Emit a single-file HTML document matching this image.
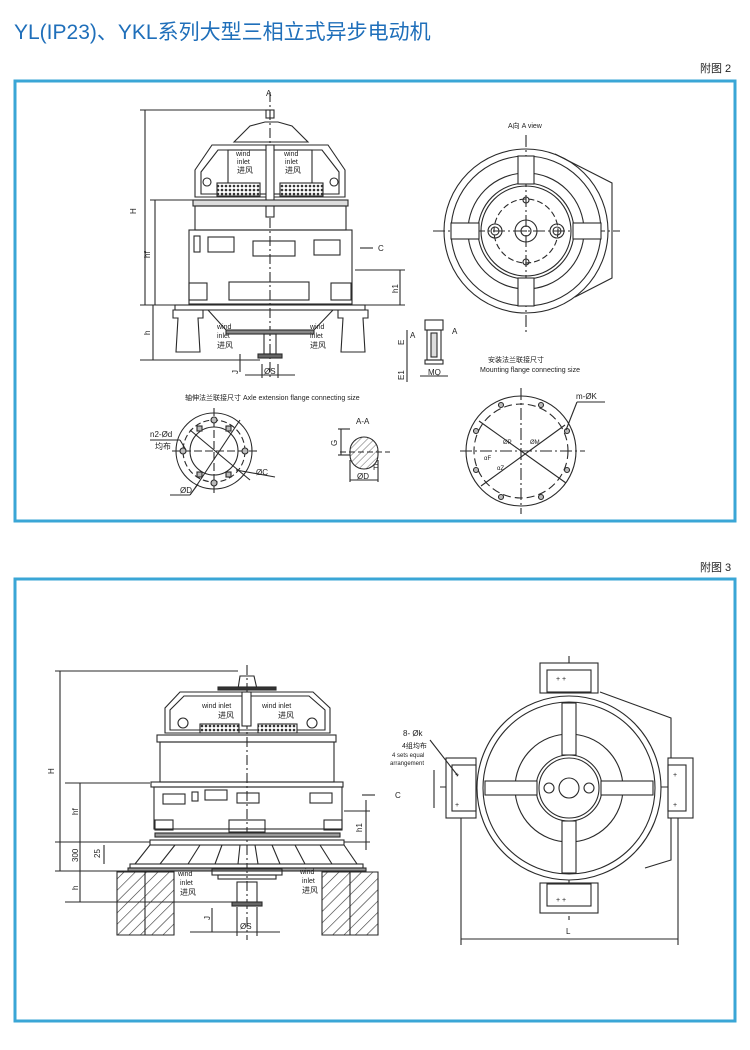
<!DOCTYPE html>
<html><head><meta charset="utf-8"><style>
html,body{margin:0;padding:0;background:#fff;width:750px;height:1050px;overflow:hidden}
svg{display:block}
text{font-family:"Liberation Sans","Noto Sans CJK SC",sans-serif;fill:#222}
</style></head><body>
<svg width="750" height="1050" viewBox="0 0 750 1050" xmlns="http://www.w3.org/2000/svg">
<defs>
<pattern id="mesh" width="4" height="4" patternUnits="userSpaceOnUse"><rect width="4" height="4" fill="#fff"/><circle cx="2" cy="2" r="1.3" fill="#333"/></pattern>
<pattern id="hatch" width="8" height="8" patternUnits="userSpaceOnUse" patternTransform="rotate(45)"><rect width="8" height="8" fill="#fff"/><line x1="0" y1="0" x2="0" y2="8" stroke="#333" stroke-width="1.2"/></pattern>
<pattern id="hatch2" width="5" height="5" patternUnits="userSpaceOnUse" patternTransform="rotate(45)"><line x1="0" y1="0" x2="0" y2="5" stroke="#444" stroke-width="0.8"/></pattern>
</defs>
<text x="14" y="39" font-size="21" style="fill:#1f6fba" font-family="Liberation Sans,Noto Sans CJK SC,sans-serif">YL(IP23)、YKL系列大型三相立式异步电动机</text>
<text x="700" y="72" font-size="11">附图 2</text>
<rect x="15" y="81" width="720" height="440" fill="none" stroke="#3aa6d6" stroke-width="3"/>
<text x="700" y="571" font-size="11">附图 3</text>
<rect x="15" y="579" width="720" height="442" fill="none" stroke="#3aa6d6" stroke-width="3"/>

<g stroke="#2a2a2a" stroke-width="1.1" fill="none">
<!-- ===== FIG 2 side view ===== -->
<line x1="270" y1="92" x2="270" y2="380" stroke-dasharray="10 3 2 3"/>
<path d="M234 142 L250 126 L265 122 L278 122 L292 126 L308 142 Z"/>
<rect x="266" y="110" width="8" height="8"/>
<path d="M212 145 L328 145 L345 170 L345 197 L195 197 L195 170 Z"/>
<path d="M218 150 L322 150 L339 172 L339 194 L201 194 L201 172 Z"/>
<rect x="228" y="150" width="84" height="44"/>
<rect x="266" y="145" width="8" height="72" fill="#fff"/>
<rect x="217" y="183" width="43" height="13" fill="url(#mesh)"/>
<rect x="280" y="183" width="43" height="13" fill="url(#mesh)"/>
<circle cx="207" cy="182" r="4"/><circle cx="334" cy="182" r="4"/>
<rect x="193" y="200" width="155" height="6" fill="#ddd"/>
<rect x="195" y="206" width="151" height="24"/>
<rect x="189" y="230" width="163" height="74"/>
<rect x="194" y="236" width="6" height="16"/>
<rect x="208" y="237" width="26" height="15"/>
<rect x="253" y="241" width="42" height="15"/>
<rect x="314" y="240" width="26" height="15"/>
<rect x="189" y="283" width="18" height="17"/>
<rect x="229" y="282" width="80" height="18"/>
<rect x="331" y="283" width="20" height="17"/>
<rect x="175" y="305" width="190" height="5"/>
<path d="M208 310 L226 330 L314 330 L333 310"/>
<rect x="226" y="330" width="88" height="4" fill="#888"/>
<path d="M173 310 L203 310 L203 318 L198 318 L200 352 L176 352 L178 318 L173 318 Z"/>
<path d="M338 310 L368 310 L368 318 L363 318 L365 352 L341 352 L343 318 L338 318 Z"/>
<rect x="264" y="334" width="12" height="20"/>
<rect x="258" y="354" width="24" height="4" fill="#666"/>
<line x1="140" y1="110" x2="270" y2="110"/><line x1="145" y1="110" x2="145" y2="305"/>
<line x1="150" y1="200" x2="193" y2="200"/><line x1="155" y1="200" x2="155" y2="305"/>
<line x1="140" y1="305" x2="180" y2="305"/><line x1="153" y1="305" x2="153" y2="360"/>
<line x1="140" y1="360" x2="260" y2="360"/>
<line x1="355" y1="270" x2="405" y2="270"/><line x1="355" y1="305" x2="405" y2="305"/><line x1="400" y1="270" x2="400" y2="305"/>
<line x1="360" y1="248" x2="373" y2="248"/>
<line x1="262" y1="364" x2="262" y2="378"/><line x1="278" y1="364" x2="278" y2="378"/><line x1="245" y1="375" x2="295" y2="375"/>
<line x1="240" y1="354" x2="240" y2="372"/>
<rect x="425" y="320" width="18" height="10"/><rect x="427" y="330" width="14" height="30"/><rect x="431" y="333" width="6" height="24" fill="#ddd"/>
<rect x="425" y="360" width="18" height="4"/>
<line x1="407" y1="330" x2="407" y2="362"/><line x1="407" y1="362" x2="407" y2="382"/>
<line x1="420" y1="376" x2="448" y2="376"/>
<!-- A view -->
<line x1="526" y1="135" x2="526" y2="335" stroke-dasharray="12 3 2 3"/>
<line x1="433" y1="231" x2="620" y2="231" stroke-dasharray="12 3 2 3"/>
<path d="M555 154 L612 183 L612 278 L575 297"/>
<circle cx="526" cy="231" r="82"/>
<circle cx="526" cy="231" r="75"/>
<circle cx="526" cy="231" r="58"/>
<circle cx="526" cy="231" r="48"/>
<circle cx="526" cy="231" r="45"/>
<circle cx="526" cy="231" r="32" stroke-dasharray="6 3"/>
<rect x="518" y="156" width="16" height="28" fill="#fff"/>
<rect x="518" y="278" width="16" height="28" fill="#fff"/>
<rect x="451" y="223" width="28" height="16" fill="#fff"/>
<rect x="573" y="223" width="28" height="16" fill="#fff"/>
<circle cx="526" cy="231" r="11"/><circle cx="526" cy="231" r="5"/>
<circle cx="495" cy="231" r="7"/><circle cx="495" cy="231" r="4"/>
<circle cx="557" cy="231" r="7"/><circle cx="557" cy="231" r="4"/>
<circle cx="526" cy="200" r="3"/><circle cx="526" cy="262" r="3"/>
<!-- flange 1 -->
<circle cx="214" cy="451" r="38"/><circle cx="214" cy="451" r="24"/>
<circle cx="214" cy="451" r="31" stroke-dasharray="6 3"/>
<line x1="172" y1="451" x2="258" y2="451" stroke-dasharray="8 3"/><line x1="214" y1="408" x2="214" y2="494" stroke-dasharray="8 3"/>
<line x1="190" y1="430" x2="250" y2="480"/><line x1="195" y1="488" x2="240" y2="420"/>
<g fill="#bbb"><rect x="197" y="426" width="5" height="5"/><rect x="226" y="426" width="5" height="5"/><rect x="197" y="472" width="5" height="5"/><rect x="226" y="472" width="5" height="5"/><circle cx="214" cy="420" r="3"/><circle cx="214" cy="483" r="3"/><circle cx="183" cy="451" r="3"/><circle cx="245" cy="451" r="3"/></g>
<line x1="150" y1="440" x2="180" y2="440"/><line x1="180" y1="440" x2="186" y2="450"/>
<line x1="236" y1="470" x2="275" y2="477"/><line x1="198" y1="484" x2="190" y2="495"/><line x1="170" y1="495" x2="190" y2="495"/>
<path d="M350 451 A14 14 0 0 1 378 451 L378 455 A14 14 0 0 1 350 455 Z" fill="url(#hatch2)"/>
<line x1="340" y1="452" x2="390" y2="452" stroke-dasharray="6 3"/>
<line x1="338" y1="429" x2="350" y2="429"/><line x1="338" y1="455" x2="350" y2="455"/><line x1="341" y1="429" x2="341" y2="455"/>
<line x1="350" y1="460" x2="350" y2="482"/><line x1="378" y1="460" x2="378" y2="482"/><line x1="350" y1="480" x2="378" y2="480"/>
<circle cx="521" cy="451" r="55"/>
<circle cx="521" cy="451" r="47" stroke-dasharray="8 4"/>
<line x1="460" y1="451" x2="585" y2="451" stroke-dasharray="12 3 2 3"/><line x1="521" y1="388" x2="521" y2="514" stroke-dasharray="12 3 2 3"/>
<line x1="479" y1="421" x2="566" y2="483"/><line x1="481" y1="486" x2="565" y2="425"/>
<g fill="#bbb"><circle cx="501" cy="405" r="2.5"/><circle cx="541" cy="405" r="2.5"/><circle cx="476" cy="431" r="2.5"/><circle cx="567" cy="431" r="2.5"/><circle cx="476" cy="470" r="2.5"/><circle cx="567" cy="470" r="2.5"/><circle cx="501" cy="497" r="2.5"/><circle cx="541" cy="497" r="2.5"/></g>
<line x1="566" y1="430" x2="577" y2="402"/><line x1="577" y1="402" x2="605" y2="402"/>

<!-- ===== FIG 3 side view ===== -->
<line x1="247" y1="665" x2="247" y2="940" stroke-dasharray="10 3 2 3"/>
<path d="M238 689 L240 676 L254 676 L257 689 L263 690 Z"/>
<rect x="218" y="687" width="58" height="3" fill="#333"/>
<path d="M180 692 L313 692 L330 708 L330 733 L165 733 L165 708 Z"/>
<path d="M184 696 L309 696 L325 710 L325 730 L170 730 L170 710 Z"/>
<rect x="242" y="692" width="9" height="34" fill="#fff"/>
<circle cx="183" cy="723" r="5"/><circle cx="312" cy="723" r="5"/>
<rect x="200" y="724" width="39" height="9" fill="url(#mesh)"/><rect x="258" y="724" width="39" height="9" fill="url(#mesh)"/>
<rect x="157" y="735" width="179" height="7"/>
<rect x="160" y="742" width="174" height="40"/>
<rect x="151" y="782" width="192" height="5"/>
<rect x="154" y="787" width="188" height="42"/>
<rect x="163" y="794" width="22" height="10"/><rect x="192" y="792" width="6" height="9"/><rect x="205" y="790" width="22" height="10"/><rect x="237" y="793" width="22" height="10"/><rect x="310" y="793" width="22" height="10"/>
<rect x="155" y="820" width="18" height="10"/><rect x="229" y="820" width="36" height="12"/><rect x="324" y="820" width="18" height="10"/>
<rect x="155" y="833" width="185" height="4" fill="#999"/>
<rect x="150" y="840" width="194" height="5"/>
<path d="M150 845 L135 864 L357 864 L344 845"/>
<path d="M175 845 L160 864 M200 845 L188 864 M222 845 L215 864 M240 845 L238 864 M255 845 L258 864 M272 845 L280 864 M295 845 L305 864 M320 845 L332 864"/>
<rect x="130" y="864" width="233" height="4"/><rect x="128" y="868" width="238" height="3" fill="#999"/>
<rect x="212" y="869" width="70" height="6"/><rect x="218" y="875" width="58" height="4"/>
<rect x="237" y="882" width="20" height="22"/><rect x="232" y="902" width="30" height="4" fill="#666"/>
<path d="M117 872 L174 872 L174 935 L117 935 Z" fill="url(#hatch)"/>
<path d="M322 872 L378 872 L378 935 L322 935 Z" fill="url(#hatch)"/>
<line x1="145" y1="872" x2="145" y2="935"/><line x1="350" y1="872" x2="350" y2="935"/>
<line x1="55" y1="671" x2="238" y2="671"/><line x1="60" y1="671" x2="60" y2="871"/>
<line x1="65" y1="783" x2="150" y2="783"/><line x1="80" y1="783" x2="80" y2="842"/>
<line x1="55" y1="842" x2="150" y2="842"/><line x1="80" y1="842" x2="80" y2="871"/>
<line x1="55" y1="871" x2="130" y2="871"/><line x1="80" y1="871" x2="80" y2="902"/>
<line x1="65" y1="902" x2="232" y2="902"/>
<line x1="104" y1="845" x2="104" y2="864"/>
<line x1="344" y1="811" x2="370" y2="811"/><line x1="344" y1="842" x2="370" y2="842"/><line x1="366" y1="800" x2="366" y2="850"/>
<line x1="362" y1="795" x2="375" y2="795"/>
<line x1="212" y1="908" x2="212" y2="932"/><line x1="190" y1="932" x2="280" y2="932"/>
<line x1="237" y1="907" x2="237" y2="936"/><line x1="257" y1="907" x2="257" y2="936"/>
<!-- top view fig3 -->
<line x1="569" y1="656" x2="569" y2="920" stroke-dasharray="12 3 2 3"/>
<line x1="440" y1="787" x2="695" y2="787" stroke-dasharray="12 3 2 3"/>
<path d="M600 692 L671 718 L671 860 L645 868"/>
<rect x="540" y="663" width="58" height="30" fill="#fff"/><rect x="547" y="670" width="44" height="22"/>
<rect x="540" y="883" width="58" height="30" fill="#fff"/><rect x="547" y="884" width="44" height="22"/>
<rect x="446" y="758" width="30" height="60" fill="#fff"/><rect x="452" y="765" width="24" height="46"/>
<rect x="668" y="758" width="25" height="60" fill="#fff"/><rect x="668" y="765" width="18" height="46"/>
<circle cx="569" cy="788" r="92" fill="#fff"/>
<circle cx="569" cy="788" r="86"/>
<circle cx="569" cy="788" r="54"/>
<circle cx="569" cy="788" r="33"/><circle cx="569" cy="788" r="30"/>
<rect x="562" y="703" width="14" height="52" fill="#fff"/>
<rect x="562" y="821" width="14" height="52" fill="#fff"/>
<rect x="485" y="781" width="52" height="14" fill="#fff"/>
<rect x="601" y="781" width="52" height="14" fill="#fff"/>
<circle cx="569" cy="788" r="10"/><circle cx="549" cy="788" r="5"/><circle cx="589" cy="788" r="5"/>
<line x1="461" y1="818" x2="461" y2="945"/><line x1="678" y1="818" x2="678" y2="945"/>
<line x1="461" y1="939" x2="678" y2="939"/>
<line x1="430" y1="740" x2="458" y2="776"/>
<line x1="434" y1="770" x2="434" y2="808"/>
</g>
<g font-size="8">
<text x="266" y="96">A</text>
<text x="236" y="156" font-size="7">wind</text><text x="237" y="164" font-size="7">inlet</text><text x="237" y="173">进风</text>
<text x="284" y="156" font-size="7">wind</text><text x="285" y="164" font-size="7">inlet</text><text x="285" y="173">进风</text>
<text x="217" y="329" font-size="7">wind</text><text x="217" y="338" font-size="7">inlet</text><text x="217" y="348">进风</text>
<text x="310" y="329" font-size="7">wind</text><text x="310" y="338" font-size="7">inlet</text><text x="310" y="348">进风</text>
<text x="136" y="214" transform="rotate(-90 136 214)">H</text>
<text x="150" y="258" transform="rotate(-90 150 258)">hf</text>
<text x="150" y="335" transform="rotate(-90 150 335)">h</text>
<text x="398" y="293" transform="rotate(-90 398 293)">h1</text>
<text x="238" y="374" transform="rotate(-90 238 374)">J</text>
<text x="378" y="251">C</text>
<text x="264" y="374">ØS</text>
<text x="404" y="345" transform="rotate(-90 404 345)">E</text>
<text x="404" y="380" transform="rotate(-90 404 380)">E1</text>
<text x="428" y="375">MQ</text>
<text x="410" y="338">A</text><text x="452" y="334">A</text>
<text x="508" y="128" font-size="7">A向  A view</text>
<text x="488" y="362" font-size="7">安装法兰联接尺寸</text>
<text x="480" y="372" font-size="7">Mounting flange connecting size</text>
<text x="185" y="400" font-size="7">轴伸法兰联接尺寸  Axle extension flange connecting size</text>
<text x="150" y="437">n2-Ød</text><text x="155" y="449">均布</text>
<text x="256" y="475">ØC</text><text x="180" y="493">ØD</text>
<text x="356" y="424">A-A</text><text x="337" y="446" transform="rotate(-90 337 446)">G</text>
<text x="373" y="470">F</text><text x="357" y="479">ØD</text>
<text x="576" y="399">m-ØK</text>
<text x="503" y="444" font-size="6">ØP</text><text x="530" y="444" font-size="6">ØM</text>
<text x="484" y="460" font-size="6">αF</text><text x="497" y="470" font-size="6">αZ</text>
<text x="202" y="708" font-size="7">wind inlet</text><text x="218" y="718">进风</text>
<text x="262" y="708" font-size="7">wind inlet</text><text x="278" y="718">进风</text>
<text x="178" y="876" font-size="7">wind</text><text x="180" y="885" font-size="7">inlet</text><text x="180" y="895">进风</text>
<text x="300" y="874" font-size="7">wind</text><text x="302" y="883" font-size="7">inlet</text><text x="302" y="893">进风</text>
<text x="54" y="774" transform="rotate(-90 54 774)">H</text>
<text x="78" y="815" transform="rotate(-90 78 815)">hf</text>
<text x="78" y="862" transform="rotate(-90 78 862)">300</text>
<text x="100" y="858" transform="rotate(-90 100 858)">25</text>
<text x="78" y="890" transform="rotate(-90 78 890)">h</text>
<text x="210" y="920" transform="rotate(-90 210 920)">J</text>
<text x="240" y="929">ØS</text>
<text x="362" y="832" transform="rotate(-90 362 832)">h1</text>
<text x="395" y="798">C</text>
<text x="403" y="736">8- Øk</text>
<text x="402" y="748" font-size="7">4组均布</text>
<text x="392" y="757" font-size="6">4 sets equal</text>
<text x="390" y="765" font-size="6">arrangement</text>
<text x="566" y="934">L</text>
</g>
<g fill="#222" font-size="7">
<text x="556" y="681">+ +</text><text x="556" y="902">+ +</text>
<text x="455" y="777">+</text><text x="455" y="807">+</text><text x="673" y="777">+</text><text x="673" y="807">+</text>
</g>
</svg>
</body></html>
